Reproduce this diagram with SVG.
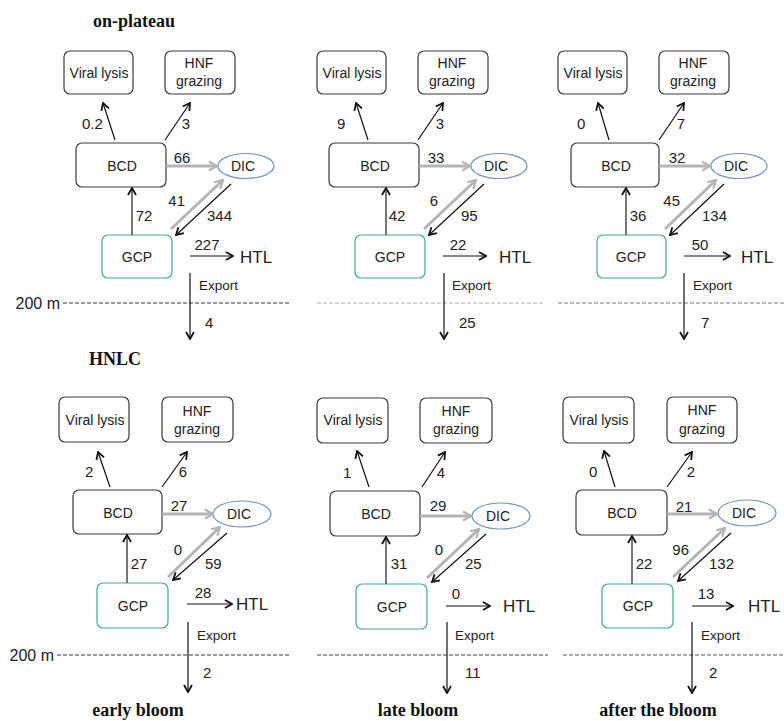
<svg xmlns="http://www.w3.org/2000/svg" width="784" height="721" viewBox="0 0 784 721">
<style>
  .box{fill:#fff;stroke:#3a3a3a;stroke-width:1.2}
  .gcp{fill:#fff;stroke:#3fae80;stroke-width:1.2}
  .dic{fill:#fff;stroke:#6f93c4;stroke-width:1.2}
  .t{font-family:"Liberation Sans",Arial,sans-serif;font-size:14px;fill:#222;text-anchor:middle;dominant-baseline:central}
  .n{font-family:"Liberation Sans",Arial,sans-serif;font-size:15px;fill:#222;dominant-baseline:central}
  .htl{font-family:"Liberation Sans",Arial,sans-serif;font-size:17px;fill:#222;dominant-baseline:central}
  .ex{font-family:"Liberation Sans",Arial,sans-serif;font-size:13.5px;fill:#222;dominant-baseline:central}
  .title{font-family:"Liberation Serif","Times New Roman",serif;font-size:18px;font-weight:bold;fill:#111;text-anchor:middle}
  .blk{stroke:#111;stroke-width:1.2;fill:none;marker-end:url(#ah)}
  .up{stroke:#555;stroke-width:1.6;fill:none;marker-end:url(#ah)}
  .gry{stroke:#b4b4b4;stroke-width:3;fill:none;marker-end:url(#ag)}
  .dash{stroke-width:1;stroke-dasharray:4 2;fill:none}
</style>
<defs>
  <marker id="ah" viewBox="0 0 10 10" refX="9" refY="5" markerWidth="10" markerHeight="10" markerUnits="userSpaceOnUse" orient="auto">
    <path d="M2,1 L9,5 L2,9" fill="none" stroke="#111" stroke-width="1.8"/>
  </marker>
  <marker id="ag" viewBox="0 0 12 12" refX="11" refY="6" markerWidth="12" markerHeight="12" markerUnits="userSpaceOnUse" orient="auto">
    <path d="M3,1.5 L11,6 L3,10.5" fill="none" stroke="#b4b4b4" stroke-width="2.2"/>
  </marker>
</defs>
<rect width="784" height="721" fill="#fff"/>

<!-- titles -->
<g id="titles">
  <text class="title" x="134" y="27">on-plateau</text>
  <text class="title" x="115" y="365">HNLC</text>
  <text class="title" x="138" y="716">early bloom</text>
  <text class="title" x="418" y="716">late bloom</text>
  <text class="title" x="658" y="716">after the bloom</text>
</g>

<!-- depth lines -->
<g id="depth">
  <text class="htl" x="60" y="303" style="font-size:16px;text-anchor:end">200 m</text>
  <line class="dash" x1="63" y1="303" x2="291" y2="303" stroke="#333"/>
  <line class="dash" x1="317" y1="303" x2="543" y2="303" stroke="#b0b0b0"/>
  <line class="dash" x1="558" y1="303" x2="784" y2="303" stroke="#777"/>
  <text class="htl" x="54" y="655" style="font-size:16px;text-anchor:end">200 m</text>
  <line class="dash" x1="57" y1="655" x2="291" y2="655" stroke="#333"/>
  <line class="dash" x1="317" y1="655" x2="548" y2="655" stroke="#444"/>
  <line class="dash" x1="563" y1="655" x2="784" y2="655" stroke="#555"/>
</g>

<!-- Panel 1: on-plateau early bloom -->
<g id="p1" transform="translate(0,0)">
  <g id="p1-viral"><rect class="box" x="64" y="51" width="69" height="43" rx="6"/><text class="t" x="99" y="73">Viral lysis</text></g>
  <g id="p1-hnf"><rect class="box" x="165" y="51" width="70" height="43" rx="6"/><text class="t" x="199" y="63">HNF</text><text class="t" x="199" y="81">grazing</text></g>
  <g id="p1-bcd"><rect class="box" x="76" y="143" width="90" height="44" rx="6"/><text class="t" x="122" y="166">BCD</text></g>
  <g id="p1-dic"><ellipse class="dic" cx="246" cy="166" rx="28" ry="12.5"/><text class="t" x="243" y="166">DIC</text></g>
  <g id="p1-gcp"><rect class="gcp" x="102" y="235" width="70" height="43" rx="6"/><text class="t" x="137" y="257">GCP</text></g>
  <g id="p1-htl"><text class="htl" x="240" y="257">HTL</text></g>
  <g id="p1-conn">
    <line class="blk" x1="115" y1="140" x2="103" y2="103"/>
    <line class="blk" x1="165" y1="140" x2="190" y2="103"/>
    <line class="gry" x1="166" y1="166" x2="217" y2="166"/>
    <line class="up" x1="132" y1="235" x2="132" y2="188"/>
    <line class="gry" x1="171" y1="229" x2="223" y2="180"/>
    <line class="blk" x1="231" y1="184" x2="176" y2="235"/>
    <line class="blk" x1="190" y1="256" x2="233" y2="256"/>
    <line class="blk" x1="190" y1="273" x2="190" y2="339"/>
    <text class="n" x="82" y="123">0.2</text>
    <text class="n" x="186" y="123" text-anchor="middle">3</text>
    <text class="n" x="182" y="157" text-anchor="middle">66</text>
    <text class="n" x="144" y="215" text-anchor="middle">72</text>
    <text class="n" x="185" y="200" text-anchor="end">41</text>
    <text class="n" x="207" y="215">344</text>
    <text class="n" x="207" y="244" text-anchor="middle">227</text>
    <text class="ex" x="199" y="285">Export</text>
    <text class="n" x="205" y="322">4</text>
  </g>
</g>

<!-- Panel 2: on-plateau late bloom -->
<g id="p2" transform="translate(253,0)">
  <g id="p2-viral"><rect class="box" x="64" y="51" width="69" height="43" rx="6"/><text class="t" x="99" y="73">Viral lysis</text></g>
  <g id="p2-hnf"><rect class="box" x="165" y="51" width="70" height="43" rx="6"/><text class="t" x="199" y="63">HNF</text><text class="t" x="199" y="81">grazing</text></g>
  <g id="p2-bcd"><rect class="box" x="76" y="143" width="90" height="44" rx="6"/><text class="t" x="122" y="166">BCD</text></g>
  <g id="p2-dic"><ellipse class="dic" cx="246" cy="166" rx="28" ry="12.5"/><text class="t" x="243" y="166">DIC</text></g>
  <g id="p2-gcp"><rect class="gcp" x="102" y="235" width="70" height="43" rx="6"/><text class="t" x="137" y="257">GCP</text></g>
  <g id="p2-htl"><text class="htl" x="246" y="257">HTL</text></g>
  <g id="p2-conn">
    <line class="blk" x1="115" y1="140" x2="103" y2="103"/>
    <line class="blk" x1="165" y1="140" x2="190" y2="103"/>
    <line class="gry" x1="166" y1="166" x2="217" y2="166"/>
    <line class="up" x1="133" y1="235" x2="133" y2="188"/>
    <line class="gry" x1="171" y1="229" x2="223" y2="180"/>
    <line class="blk" x1="231" y1="184" x2="176" y2="235"/>
    <line class="blk" x1="190" y1="256" x2="233" y2="256"/>
    <line class="blk" x1="191" y1="273" x2="191" y2="339"/>
    <text class="n" x="84" y="123">9</text>
    <text class="n" x="187" y="123" text-anchor="middle">3</text>
    <text class="n" x="183" y="157" text-anchor="middle">33</text>
    <text class="n" x="144" y="215" text-anchor="middle">42</text>
    <text class="n" x="185" y="200" text-anchor="end">6</text>
    <text class="n" x="208" y="215">95</text>
    <text class="n" x="205" y="244" text-anchor="middle">22</text>
    <text class="ex" x="199" y="285">Export</text>
    <text class="n" x="206" y="322">25</text>
  </g>
</g>

<!-- Panel 3: on-plateau after the bloom -->
<g id="p3" transform="translate(494,0)">
  <g id="p3-viral"><rect class="box" x="64" y="51" width="69" height="43" rx="6"/><text class="t" x="99" y="73">Viral lysis</text></g>
  <g id="p3-hnf"><rect class="box" x="165" y="51" width="70" height="43" rx="6"/><text class="t" x="199" y="63">HNF</text><text class="t" x="199" y="81">grazing</text></g>
  <g id="p3-bcd"><rect class="box" x="77" y="143" width="88" height="44" rx="6"/><text class="t" x="122" y="166">BCD</text></g>
  <g id="p3-dic"><ellipse class="dic" cx="245" cy="166" rx="28" ry="12.5"/><text class="t" x="242" y="166">DIC</text></g>
  <g id="p3-gcp"><rect class="gcp" x="103" y="235" width="69" height="43" rx="6"/><text class="t" x="137" y="257">GCP</text></g>
  <g id="p3-htl"><text class="htl" x="247" y="257">HTL</text></g>
  <g id="p3-conn">
    <line class="blk" x1="115" y1="140" x2="104" y2="103"/>
    <line class="blk" x1="165" y1="140" x2="190" y2="103"/>
    <line class="gry" x1="165" y1="166" x2="216" y2="166"/>
    <line class="up" x1="132" y1="235" x2="132" y2="188"/>
    <line class="gry" x1="171" y1="229" x2="222" y2="180"/>
    <line class="blk" x1="230" y1="184" x2="176" y2="235"/>
    <line class="blk" x1="190" y1="256" x2="236" y2="256"/>
    <line class="blk" x1="190" y1="273" x2="190" y2="339"/>
    <text class="n" x="83" y="123">0</text>
    <text class="n" x="187" y="123" text-anchor="middle">7</text>
    <text class="n" x="183" y="157" text-anchor="middle">32</text>
    <text class="n" x="144" y="215" text-anchor="middle">36</text>
    <text class="n" x="186" y="200" text-anchor="end">45</text>
    <text class="n" x="208" y="215">134</text>
    <text class="n" x="206" y="244" text-anchor="middle">50</text>
    <text class="ex" x="199" y="285">Export</text>
    <text class="n" x="207" y="322">7</text>
  </g>
</g>

<!-- Panel 4: HNLC early bloom -->
<g id="p4" transform="translate(-4,347)">
  <g id="p4-viral"><rect class="box" x="63" y="50" width="70" height="45" rx="6"/><text class="t" x="99" y="73">Viral lysis</text></g>
  <g id="p4-hnf"><rect class="box" x="166" y="50" width="71" height="45" rx="6"/><text class="t" x="201" y="64">HNF</text><text class="t" x="201" y="82">grazing</text></g>
  <g id="p4-bcd"><rect class="box" x="77" y="143" width="89" height="44" rx="6"/><text class="t" x="122" y="166">BCD</text></g>
  <g id="p4-dic"><ellipse class="dic" cx="246" cy="167" rx="29" ry="13"/><text class="t" x="243" y="167">DIC</text></g>
  <g id="p4-gcp"><rect class="gcp" x="101" y="236" width="71" height="45" rx="6"/><text class="t" x="137" y="259">GCP</text></g>
  <g id="p4-htl"><text class="htl" x="240" y="257">HTL</text></g>
  <g id="p4-conn">
    <line class="blk" x1="114" y1="140" x2="102" y2="105"/>
    <line class="blk" x1="166" y1="140" x2="191" y2="105"/>
    <line class="gry" x1="166" y1="167" x2="217" y2="167"/>
    <line class="up" x1="131" y1="236" x2="131" y2="188"/>
    <line class="gry" x1="172" y1="230" x2="224" y2="180"/>
    <line class="blk" x1="231" y1="186" x2="177" y2="233"/>
    <line class="blk" x1="191" y1="257" x2="236" y2="257"/>
    <line class="blk" x1="192" y1="275" x2="192" y2="345"/>
    <text class="n" x="89" y="124">2</text>
    <text class="n" x="187" y="124" text-anchor="middle">6</text>
    <text class="n" x="183" y="158" text-anchor="middle">27</text>
    <text class="n" x="143" y="216" text-anchor="middle">27</text>
    <text class="n" x="186" y="202" text-anchor="end">0</text>
    <text class="n" x="209" y="216">59</text>
    <text class="n" x="207" y="245" text-anchor="middle">28</text>
    <text class="ex" x="201" y="288">Export</text>
    <text class="n" x="207" y="325">2</text>
  </g>
</g>

<!-- Panel 5: HNLC late bloom -->
<g id="p5" transform="translate(255,348)">
  <g id="p5-viral"><rect class="box" x="62" y="50" width="71" height="45" rx="6"/><text class="t" x="98" y="72">Viral lysis</text></g>
  <g id="p5-hnf"><rect class="box" x="165" y="50" width="72" height="45" rx="6"/><text class="t" x="201" y="63">HNF</text><text class="t" x="201" y="81">grazing</text></g>
  <g id="p5-bcd"><rect class="box" x="75" y="143" width="90" height="45" rx="6"/><text class="t" x="121" y="166">BCD</text></g>
  <g id="p5-dic"><ellipse class="dic" cx="246" cy="168" rx="29" ry="13"/><text class="t" x="243" y="168">DIC</text></g>
  <g id="p5-gcp"><rect class="gcp" x="101" y="236" width="71" height="45" rx="6"/><text class="t" x="137" y="259">GCP</text></g>
  <g id="p5-htl"><text class="htl" x="248" y="258">HTL</text></g>
  <g id="p5-conn">
    <line class="blk" x1="114" y1="139" x2="102" y2="103"/>
    <line class="blk" x1="167" y1="139" x2="190" y2="104"/>
    <line class="gry" x1="165" y1="168" x2="216" y2="168"/>
    <line class="up" x1="131" y1="236" x2="131" y2="189"/>
    <line class="gry" x1="172" y1="230" x2="224" y2="181"/>
    <line class="blk" x1="231" y1="186" x2="177" y2="234"/>
    <line class="blk" x1="191" y1="258" x2="235" y2="258"/>
    <line class="blk" x1="192" y1="274" x2="192" y2="345"/>
    <text class="n" x="88" y="124">1</text>
    <text class="n" x="186" y="124" text-anchor="middle">4</text>
    <text class="n" x="183" y="157" text-anchor="middle">29</text>
    <text class="n" x="144" y="215" text-anchor="middle">31</text>
    <text class="n" x="188" y="201" text-anchor="end">0</text>
    <text class="n" x="210" y="215">25</text>
    <text class="n" x="201" y="245" text-anchor="middle">0</text>
    <text class="ex" x="200" y="287">Export</text>
    <text class="n" x="210" y="324">11</text>
  </g>
</g>

<!-- Panel 6: HNLC after the bloom -->
<g id="p6" transform="translate(501,348)">
  <g id="p6-viral"><rect class="box" x="62" y="49" width="71" height="46" rx="6"/><text class="t" x="98" y="72">Viral lysis</text></g>
  <g id="p6-hnf"><rect class="box" x="166" y="49" width="70" height="46" rx="6"/><text class="t" x="201" y="62">HNF</text><text class="t" x="201" y="81">grazing</text></g>
  <g id="p6-bcd"><rect class="box" x="75" y="142" width="91" height="45" rx="6"/><text class="t" x="121" y="165">BCD</text></g>
  <g id="p6-dic"><ellipse class="dic" cx="246" cy="165" rx="29" ry="13"/><text class="t" x="243" y="165">DIC</text></g>
  <g id="p6-gcp"><rect class="gcp" x="101" y="236" width="71" height="44" rx="6"/><text class="t" x="137" y="258">GCP</text></g>
  <g id="p6-htl"><text class="htl" x="247" y="258">HTL</text></g>
  <g id="p6-conn">
    <line class="blk" x1="114" y1="139" x2="103" y2="103"/>
    <line class="blk" x1="166" y1="139" x2="191" y2="104"/>
    <line class="gry" x1="166" y1="166" x2="216" y2="166"/>
    <line class="up" x1="131" y1="236" x2="131" y2="188"/>
    <line class="gry" x1="172" y1="229" x2="224" y2="180"/>
    <line class="blk" x1="230" y1="185" x2="177" y2="233"/>
    <line class="blk" x1="191" y1="258" x2="232" y2="258"/>
    <line class="blk" x1="191" y1="274" x2="191" y2="345"/>
    <text class="n" x="88" y="123">0</text>
    <text class="n" x="190" y="123" text-anchor="middle">2</text>
    <text class="n" x="183" y="158" text-anchor="middle">21</text>
    <text class="n" x="143" y="215" text-anchor="middle">22</text>
    <text class="n" x="188" y="201" text-anchor="end">96</text>
    <text class="n" x="208" y="215">132</text>
    <text class="n" x="205" y="245" text-anchor="middle">13</text>
    <text class="ex" x="200" y="287">Export</text>
    <text class="n" x="208" y="324">2</text>
  </g>
</g>
</svg>
